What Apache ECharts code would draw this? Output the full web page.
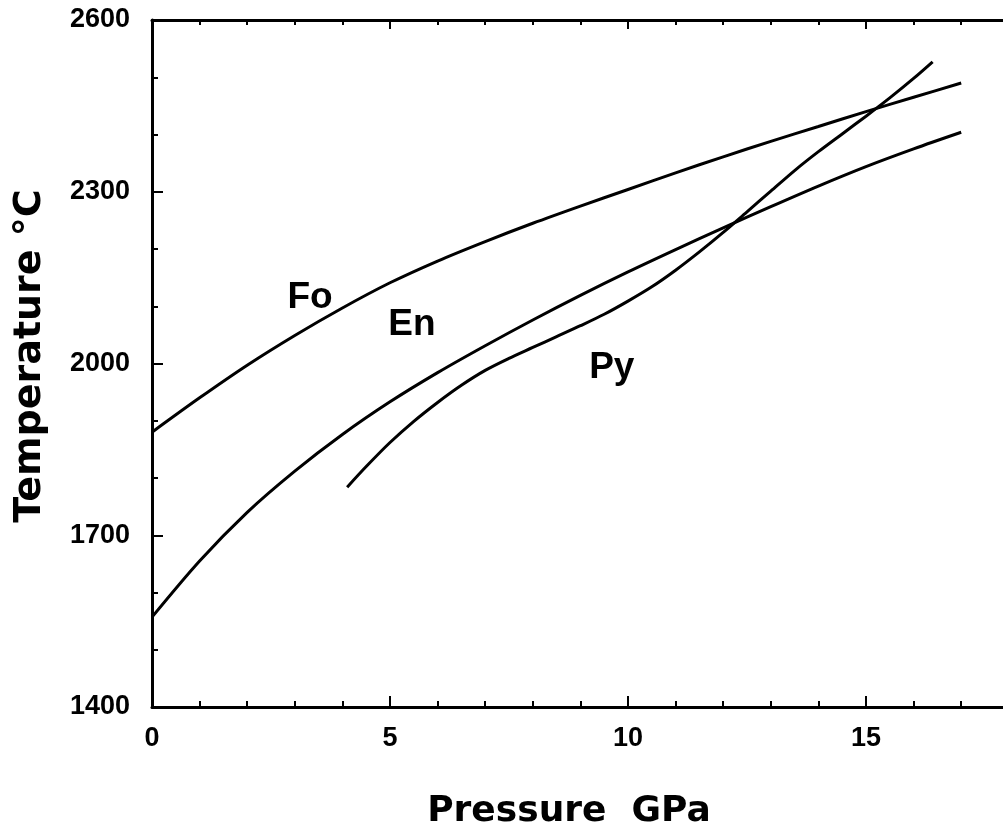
<!DOCTYPE html>
<html><head><meta charset="utf-8">
<script src="https://cdn.jsdelivr.net/npm/echarts@6/dist/echarts.min.js"></script>
<style>html,body{margin:0;padding:0;background:#fff;}#c{width:1003px;height:831px;}</style>
</head><body><div id="c"></div>
<script>
const foP = [0,1,2,3,4,5,6,7,8,9,10,11,12,13,14,15,16,17];
const foT = [1880,1940,1997,2049,2097,2141,2179,2213,2245,2275,2304,2333,2361,2388,2414,2440,2465,2490];
const enP = [0,1,2,3,4,5,6,7,8,9,10,11,12,13,14,15,16,17];
const enT = [1557,1655,1740,1812,1876,1933,1984,2031,2076,2119,2160,2199,2237,2274,2310,2344,2375,2404];
const pyP = [4.1,4.5,5,5.5,6,6.5,7,7.5,8,8.5,9,9.5,10,10.5,11,11.5,12,12.5,13,13.5,14,14.5,15,15.5,16,16.4];
const pyT = [1784,1820,1862,1899,1932,1962,1988,2009,2028,2047,2066,2086,2109,2134,2163,2195,2229,2265,2301,2337,2370,2401,2432,2464,2498,2527];
const labelNames = ['Fo','En','Py'];
const labelP = [3.32,5.46,9.66];
const labelT = [2114,2067,1992];
const xTitle = 'Pressure  GPa';
const yTitle = 'Temperature °C';

const zip = (a,b) => a.map((v,i)=>[v,b[i]]);
const chart = echarts.init(document.getElementById('c'), null, {renderer:'canvas'});
const black = '#000';
const tickFont = {color:black, fontFamily:'Liberation Sans', fontWeight:'bold', fontSize:27};
const baseX = {
  type:'value', min:0, max:20, interval:5,
  axisLine:{show:true, onZero:false, lineStyle:{color:black, width:3}},
  axisTick:{show:true, inside:true, length:11, lineStyle:{color:black, width:2}},
  minorTick:{show:true, splitNumber:5, length:6, lineStyle:{color:black, width:2}},
  splitLine:{show:false}, minorSplitLine:{show:false}
};
const baseY = {
  type:'value', min:1400, max:2600, interval:300,
  axisLine:{show:true, onZero:false, lineStyle:{color:black, width:3}},
  axisTick:{show:true, inside:true, length:11, lineStyle:{color:black, width:2}},
  minorTick:{show:true, splitNumber:3, length:6, lineStyle:{color:black, width:2}},
  splitLine:{show:false}, minorSplitLine:{show:false}
};
const lineSeries = (name, data) => ({
  name, type:'line', data, smooth:0.3, showSymbol:false, symbol:'none',
  lineStyle:{color:black, width:3}, clip:true, z:3
});
chart.setOption({
  backgroundColor:'#fff',
  animation:false,
  grid:{left:152, top:20, width:952, height:687, containLabel:false, outerBoundsMode:'none'},
  xAxis:[
    Object.assign({}, baseX, {position:'bottom',
      axisLabel:Object.assign({}, tickFont, {margin:18, formatter:v=>String(v)})}),
    Object.assign({}, baseX, {position:'top', axisLabel:{show:false},
      axisTick:{show:true, inside:true, length:9, lineStyle:{color:black, width:2}},
      minorTick:{show:true, splitNumber:5, length:5, lineStyle:{color:black, width:2}}})
  ],
  yAxis:[
    Object.assign({}, baseY, {position:'left',
      axisLabel:Object.assign({}, tickFont, {margin:22, formatter:v=>String(v)})}),
    Object.assign({}, baseY, {position:'right', axisLabel:{show:false}})
  ],
  graphic:[
    {type:'text', x:569, y:812,
      style:{text:xTitle, align:'center', verticalAlign:'middle', font:'bold 36px "DejaVu Sans"', fill:black}},
    {type:'text', rotation:Math.PI/2, x:30, y:356,
      style:{text:yTitle, align:'center', verticalAlign:'middle', font:'bold 38px "DejaVu Sans"', fill:black}}
  ],
  series:[
    lineSeries('Fo', zip(foP, foT)),
    lineSeries('En', zip(enP, enT)),
    lineSeries('Py', zip(pyP, pyT)),
    {type:'scatter', symbolSize:0, itemStyle:{opacity:1},
     data:labelNames.map((n,i)=>({name:n, value:[labelP[i], labelT[i]]})),
     label:{show:true, position:'inside', formatter:p=>p.name, color:'#000', opacity:1,
       fontFamily:'Liberation Sans', fontWeight:'bold', fontSize:37}, z:4}
  ]
});
</script></body></html>
